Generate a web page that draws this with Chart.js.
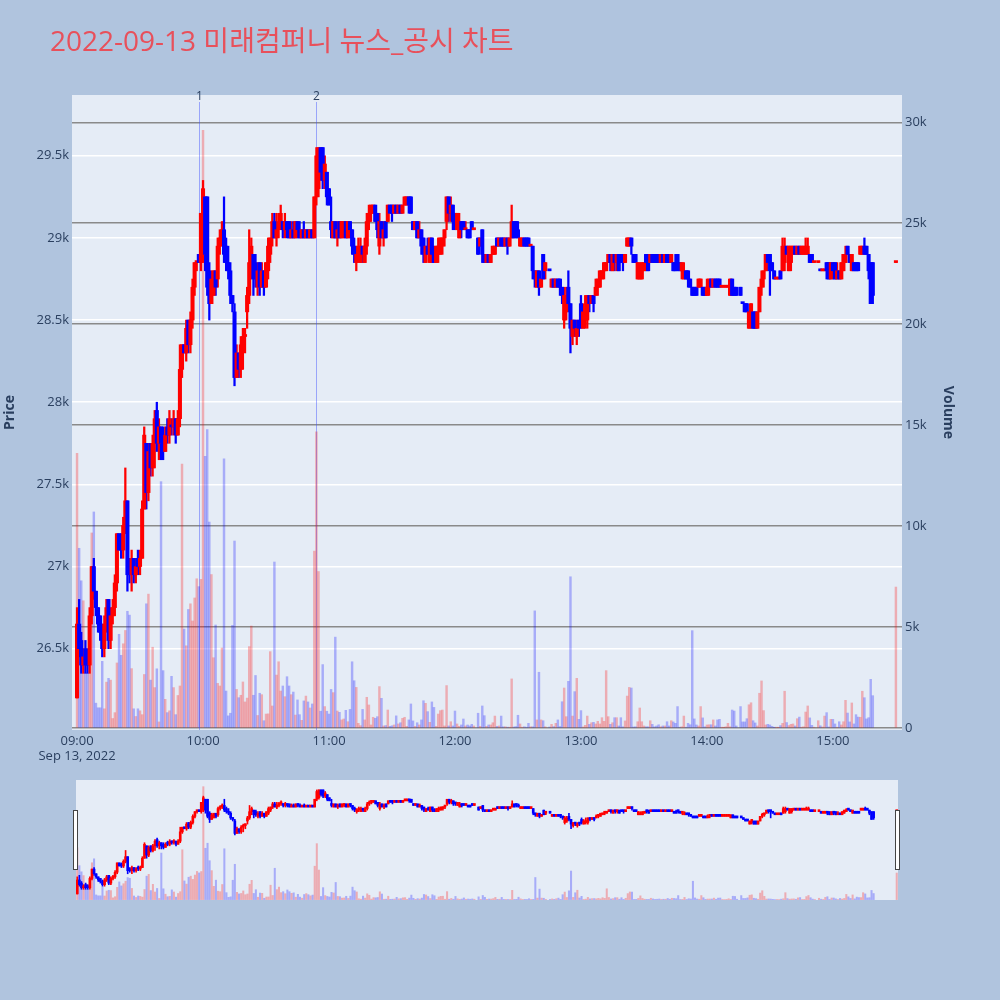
<!DOCTYPE html>
<html>
<head>
<meta charset="utf-8">
<script src="https://cdn.jsdelivr.net/npm/chart.js@4.4.1/dist/chart.umd.min.js"></script>
<style>
  html, body { margin: 0; padding: 0; background: #b0c4de; }
  #wrap { position: relative; width: 1000px; height: 1000px; overflow: hidden; }
  #title { position: absolute; left: 50px; top: 25px; font-size: 28px; line-height: 30px;
           font-family: 'Open Sans', 'Noto Sans CJK KR', sans-serif; color: #e8505b; white-space: nowrap; }
  #main { position: absolute; left: 0; top: 0; }
  #slider { position: absolute; left: 76px; top: 780px; background: #e5ecf6; }
  .handle { position: absolute; top: 810px; width: 3px; height: 58px; background: #fff; border: 1px solid #444; }
</style>
</head>
<body>
<div id="wrap">
  <canvas id="main" width="1000" height="775"></canvas>
  <canvas id="slider" width="822" height="120"></canvas>
  <div class="handle" style="left:73px"></div>
  <div class="handle" style="left:895px"></div>
  <div id="title">2022-09-13 미래컴퍼니 뉴스_공시 차트</div>
</div>
<script>
// minutes after 09:00 for each 1-minute candle
const times = [
  0,1,2,3,4,5,6,7,8,9, 10,11,12,13,14,15,16,17,18,19, 20,21,22,23,24,25,26,27,28,29,
  30,31,32,33,34,35,36,37,38,39, 40,41,42,43,44,45,46,47,48,49, 50,51,52,53,54,55,56,57,58,59,
  60,61,62,63,64,65,66,67,68,69, 70,71,72,73,74,75,76,77,78,79, 80,81,82,83,84,85,86,87,88,89,
  90,91,92,93,94,95,96,97,98,99, 100,101,102,103,104,105,106,107,108,109, 110,111,112,113,114,115,116,117,118,119,
  120,121,122,123,124,125,126,127,128,129, 130,131,132,133,134,135,136,137,138,139, 140,141,142,143,144,145,146,147,148,149,
  150,151,152,153,154,155,156,157,158,159, 160,161,162,163,164,165,166,167,168,169, 170,171,172,173,174,175,176,177,178,179,
  180,181,182,183,184,185,186,187,188,189,
  191,192,193,194,195,196,197,198,199,200, 201,202,203,204,205,206,207,208,209,210, 211,212,213,214,215,216,217,218,219,220,
  221,222,223,
  225,226,227,228,229,230,231,232,233,234, 235,236,237,238,239,240,241,242,243,244, 245,246,247,248,249,250,251,252,253,254,
  255,256,257,258,259,260,261,262,263,264, 265,266,267,268,269,270,271,272,273,274, 275,276,277,278,279,280,281,282,283,
  284,285,286,287,288,289,290,291,292,293, 294,295,296,297,298,299,300,301,302,303, 304,305,306,307,308,309,310,311,312,313,314,
  316,317,318,319,320,321,322,323,324,325, 326,327,328,329,330,331,332,333,334,335, 336,337,338,339,340,341,342,343,344,
  345,346,347,348,349,350,351,
  353,354,355,356,357,358,359,360,361,362, 363,364,365,366,367,368,369,370,371,372, 373,374,375,376,377,378,379,
  390
];
const opens = [
  26200,26650,26550,26400,26500,26450,26400,26700,27000,26850, 26750,26700,26600,26500,26650,26800,26550,26700,26750,26900,
  27200,27150,27100,27250,27400,27000,26950,27050,26950,27050, 27000,27050,27350,27750,27450,27750,27600,27750,27950,27750,
  27850,27800,27700,27850,27800,27850,27850,27900,27800,27900, 28200,28350,28300,28500,28350,28500,28700,28850,28900,28850,
  28900,29250,29250,28800,28600,28650,28800,28750,28950,29000, 29050,28950,28850,28800,28650,28550,28150,28300,28200,28350,
  28400,28550,28650,28850,28900,28850,28700,28850,28700,28800, 28700,28800,28900,29000,29100,29000,29050,29100,29100,29050,
  29100,29100,29000,29050,29000,29100,29050,29000,29050,29000, 29050,29000,29050,29000,29250,29300,29550,29550,29350,29400,
  29300,29100,29000,29100,29000,29100,29000,29050,29100,29000, 29100,29050,28950,28850,28900,28850,28950,28850,28950,29100,
  29150,29150,29200,29150,28950,29100,29000,29100,29100,29200, 29200,29150,29200,29150,29200,29150,29200,29200,29250,29250,
  29100,29050,29100,29000,29050,29000,28850,28950,28850,29000, 28900,28850,28900,28900,28950,29000,29100,29250,29150,29200,
  29150,29050,29000,29100,29100,29050,29050,29050,29100,29050,
  29000,28950,29050,28900,28850,28900,28850,28900,28900,29000, 28950,29000,29000,28950,29000,28950,29000,29100,29100,29050,
  28950,28950,29000,29000,29000,28950,28950,28800,28700,28800, 28700,28900,28800,
  28800,28700,28750,28700,28750,28750,28700,28500,28550,28700, 28600,28400,28500,28400,28500,28600,28450,28500,28500,28650,
  28600,28650,28650,28700,28700,28750,28800,28800,28850,28900, 28800,28900,28850,28900,28900,28900,28850,28950,28950,29000,
  28900,28900,28750,28750,28750,28800,28900,28900,28850,28900, 28900,28900,28900,28850,28900,28850,28900,28900,28850,
  28850,28850,28900,28850,28800,28750,28800,28800,28750,28700, 28700,28700,28700,28700,28700,28700,28650,28700,28750,28700,
  28750,28750,28750,28700,28700,28700,28700,28650,28750,28700,28700,
  28700,28600,28600,28600,28450,28500,28550,28550,28450,28550, 28700,28750,28800,28900,28900,28850,28800,28750,28750,28800,
  28800,28850,28950,28800,28850,28900,28950,28900,28950, 28900,28900,28900,28900,28900,28900,28850,
  28850,28800,28800,28800,28850,28850,28750,28850,28850,28750, 28800,28750,28800,28850,28950,28900,28800,28850,28850,28850,
  28900,28900,28950,28950,28900,28850,28850,
  28850
];
const highs = [
  26750,26800,26600,26500,26550,26500,26750,27000,27050,26850, 26750,26700,26650,26700,26800,26800,26750,26800,26950,27200,
  27200,27200,27300,27600,27400,27050,27100,27050,27050,27100, 27100,27400,27850,27750,27750,27750,27800,27950,28000,27900,
  27850,27850,27850,27900,27950,27900,27950,27900,27950,28350, 28350,28350,28500,28500,28550,28750,28850,28850,28900,29150,
  29350,29250,29250,28850,28800,28800,28800,29000,29050,29100, 29250,29000,28950,28850,28650,28600,28350,28300,28400,28450,
  28450,28700,29050,29000,28900,28900,28850,28850,28850,28800, 28850,29000,29000,29150,29150,29150,29150,29200,29100,29150,
  29100,29100,29100,29100,29100,29100,29100,29050,29100,29050, 29050,29050,29050,29250,29550,29550,29550,29550,29500,29400,
  29300,29250,29100,29100,29100,29100,29100,29100,29100,29100, 29100,29050,29000,28950,29000,29000,28950,29000,29150,29200,
  29200,29200,29200,29150,29150,29100,29100,29100,29200,29200, 29200,29200,29200,29200,29200,29200,29250,29250,29250,29250,
  29100,29100,29100,29100,29050,29000,28950,29000,29000,29000, 28950,28950,29000,29000,29000,29050,29250,29250,29250,29200,
  29150,29150,29150,29100,29100,29100,29050,29050,29100,29050,
  29000,29000,29050,28900,28900,28900,28900,28950,28950,29000, 29000,29000,29000,29000,29000,29000,29200,29100,29100,29100,
  29000,29000,29000,29000,29000,28950,28950,28800,28800,28800, 28750,28900,28850,
  28800,28750,28750,28750,28750,28750,28700,28700,28700,28800, 28600,28500,28500,28500,28500,28650,28600,28650,28650,28650,
  28650,28650,28750,28750,28800,28800,28850,28850,28900,28900, 28900,28900,28900,28900,28900,28900,28900,29000,29000,29000,
  28900,28900,28850,28850,28850,28850,28900,28900,28900,28900, 28900,28900,28900,28900,28900,28900,28900,28900,28900,
  28850,28900,28900,28850,28850,28850,28800,28800,28750,28700, 28700,28700,28750,28750,28700,28700,28750,28750,28750,28750,
  28750,28750,28750,28700,28700,28700,28700,28750,28750,28700,28700,
  28700,28600,28600,28600,28550,28600,28550,28550,28550,28700, 28800,28800,28900,28900,28900,28850,28800,28750,28750,28800,
  29000,29000,28950,28950,28950,28950,28950,28950,28950, 28950,28950,29000,29000,28900,28900,28850,
  28850,28800,28800,28800,28850,28850,28850,28850,28850,28850, 28800,28850,28900,28950,28950,28900,28900,28850,28850,28850,
  28950,28950,29000,28950,28900,28850,28850,
  28850
];
const lows = [
  26200,26450,26350,26350,26350,26350,26350,26650,26800,26700, 26600,26550,26450,26450,26600,26500,26500,26650,26700,26850,
  27100,27050,27050,27200,26850,26900,26850,26900,26900,26950, 26950,27050,27350,27350,27400,27550,27550,27600,27700,27650,
  27650,27650,27700,27750,27750,27800,27800,27750,27800,27850, 28150,28300,28250,28300,28300,28450,28650,28800,28850,28800,
  28850,28800,28650,28500,28600,28650,28650,28700,28900,28950, 28850,28800,28750,28600,28550,28100,28150,28150,28150,28200,
  28300,28450,28600,28750,28650,28700,28650,28650,28700,28650, 28700,28750,28850,28950,29000,28950,29000,29050,29000,29000,
  29000,29000,29000,29000,29000,29000,29000,29000,29000,29000, 29000,29000,29000,29000,29200,29250,29350,29300,29300,29200,
  29200,29000,29000,29000,28950,29000,29000,29000,29000,29000, 29000,28900,28850,28800,28850,28850,28850,28850,28900,29050,
  29100,29150,29100,29000,28900,29000,28950,29000,29100,29150, 29100,29150,29150,29150,29150,29150,29200,29200,29150,29150,
  29050,29050,29000,29000,28900,28850,28850,28900,28850,28850, 28850,28850,28850,28900,28900,28950,29050,29100,29100,29050,
  29050,29050,29000,29000,29050,29050,29000,29000,29050,29050,
  28900,28950,28850,28850,28850,28850,28850,28900,28900,28950, 28950,28950,28950,28950,28900,28950,29000,29000,29000,29000,
  28950,28950,28950,28950,28950,28950,28750,28700,28700,28650, 28700,28750,28750,
  28800,28700,28700,28700,28700,28650,28600,28450,28500,28550, 28300,28350,28400,28350,28400,28450,28450,28450,28450,28550,
  28600,28550,28650,28650,28700,28750,28750,28800,28850,28800, 28800,28800,28800,28800,28850,28800,28850,28950,28950,28900,
  28850,28850,28750,28750,28750,28800,28800,28800,28850,28850, 28850,28850,28850,28850,28850,28850,28850,28850,28850,
  28800,28800,28800,28800,28750,28750,28750,28700,28700,28650, 28650,28650,28700,28700,28650,28650,28650,28650,28700,28700,
  28700,28700,28700,28700,28700,28700,28700,28650,28650,28650,28650,
  28650,28600,28550,28550,28450,28450,28450,28450,28450,28550, 28650,28700,28800,28800,28650,28800,28750,28750,28750,28750,
  28800,28800,28900,28800,28800,28900,28900,28900,28900, 28900,28900,28900,28900,28850,28850,28850,
  28850,28800,28800,28800,28750,28750,28750,28750,28750,28750, 28750,28750,28800,28850,28900,28850,28800,28800,28800,28800,
  28900,28900,28900,28900,28750,28600,28600,
  28850
];
const closes = [
  26650,26500,26400,26450,26400,26400,26700,27000,26850,26750, 26650,26600,26500,26650,26750,26550,26700,26750,26900,27200,
  27100,27100,27250,27400,26950,26950,27050,26950,27000,27000, 27050,27350,27800,27450,27700,27600,27750,27900,27750,27850,
  27750,27700,27800,27800,27900,27850,27900,27800,27900,28200, 28350,28300,28450,28350,28500,28700,28850,28850,28850,29150,
  29300,28900,28700,28600,28750,28800,28700,28950,29000,29050, 28900,28850,28800,28650,28600,28150,28300,28200,28350,28400,
  28400,28650,28850,28950,28750,28750,28800,28700,28800,28700, 28850,28950,29000,29100,29000,29050,29100,29150,29050,29100,
  29050,29000,29050,29000,29100,29050,29000,29050,29000,29050, 29000,29050,29000,29250,29500,29550,29400,29350,29450,29250,
  29200,29050,29100,29000,29050,29000,29100,29100,29000,29100, 29050,28950,28900,28900,28950,28950,28900,28950,29100,29150,
  29200,29200,29100,29050,29100,29000,29050,29000,29200,29150, 29150,29200,29150,29200,29150,29200,29250,29250,29200,29150,
  29050,29100,29000,29050,28950,28900,28950,28900,29000,28900, 28850,28950,28950,29000,29000,29050,29250,29150,29200,29100,
  29100,29150,29100,29050,29050,29050,29000,29000,29050,29050,
  28900,29000,28900,28850,28900,28850,28900,28950,28950,28950, 29000,28950,28950,29000,28950,29000,29100,29000,29050,29000,
  29000,29000,28950,28950,28950,28950,28800,28750,28800,28700, 28750,28750,28850,
  28800,28750,28700,28750,28700,28700,28650,28650,28650,28600, 28450,28500,28450,28450,28450,28500,28550,28550,28650,28600,
  28650,28600,28700,28750,28800,28800,28850,28850,28900,28850, 28900,28850,28900,28800,28850,28850,28900,29000,29000,28950,
  28850,28850,28850,28800,28850,28850,28850,28800,28900,28850, 28850,28850,28850,28900,28850,28900,28850,28850,28900,
  28800,28800,28850,28800,28850,28800,28750,28750,28700,28650, 28650,28650,28750,28750,28650,28650,28700,28750,28700,28750,
  28700,28700,28700,28700,28700,28700,28700,28750,28650,28650,28650,
  28650,28600,28550,28550,28550,28600,28450,28450,28550,28700, 28750,28800,28900,28850,28850,28800,28750,28750,28750,28750,
  28950,28950,28900,28950,28950,28950,28900,28950,28900, 28950,28950,28950,28950,28850,28850,28850,
  28850,28800,28800,28800,28800,28750,28850,28800,28750,28800, 28750,28850,28900,28900,28900,28850,28900,28800,28800,28800,
  28950,28950,28900,28900,28800,28600,28650,
  28850
];
const volumes = [
  13600,8900,7290,6300,2750,2700,5000,9660,10700,1230, 1000,1000,3300,950,2270,2460,2370,470,760,3220,
  4640,3600,4170,4830,5780,5590,2940,950,570,950, 850,660,2650,6150,6630,2370,4000,2000,2930,300,
  12200,2840,1420,760,850,2560,2000,660,1610,2080, 13070,4900,4070,5870,6150,5300,6440,7390,7000,7360,
  29600,13460,14780,10200,7600,3480,5100,2210,2080,3960, 13330,1830,600,730,5080,9260,1910,1500,1620,2280,
  1290,1480,4030,5050,1620,2600,620,1720,1650,360, 690,700,3780,1090,8220,2620,3280,1830,2080,1550,
  2540,2080,1650,1780,640,1390,660,380,1340,1580, 1290,990,1190,8760,14670,7750,830,3140,1060,830,
  690,1910,1750,4500,840,775,400,445,875,310, 920,3280,2340,2010,230,115,920,400,1520,1140,
  150,530,480,560,2050,1470,100,120,890,80, 110,150,600,200,260,480,530,80,400,1190,
  350,80,260,150,400,1350,1220,810,280,1290, 1020,80,690,860,890,100,2100,100,310,100,
  840,200,80,150,445,100,150,100,180,100,
  730,80,1090,610,80,150,150,260,590,80, 100,590,60,60,40,40,2430,50,70,630,
  200,40,60,40,230,60,60,5800,400,2760, 400,360,60,
  50,180,70,230,400,70,1300,1980,560,2310, 7490,590,1800,2460,430,860,50,130,590,180,
  260,280,200,330,200,510,330,2840,560,180, 260,510,510,100,510,60,350,1580,2010,1980,
  50,60,310,990,310,100,60,60,360,180, 60,100,160,60,100,100,310,100,360,
  300,230,1060,40,60,590,40,230,160,4820, 450,150,100,1060,500,60,150,160,160,400,
  100,400,430,40,20,60,230,60,890,840,100,
  1060,300,300,460,1150,1250,360,250,100,1720, 2330,860,150,180,150,80,20,40,20,120,
  230,1820,270,120,180,200,100,460,540, 40,60,790,1090,500,130,40,
  360,110,50,590,760,50,430,430,200,40, 310,150,310,1370,740,300,1240,200,660,540,
  530,1820,1500,450,510,2410,1600,
  6980
];
// news / disclosure markers
const newsTimes = [58, 114];
const newsLabels = ['1', '2'];

// axis ticks
const timeTicks = [0, 60, 120, 180, 240, 300, 360];
const priceTicks = [26500, 27000, 27500, 28000, 28500, 29000, 29500];
const volumeTicks = [0, 5000, 10000, 15000, 20000, 25000, 30000];
const priceRange = [26005, 29870];
const volumeRange = [-100, 31350];

const RED = '#ff0000', BLUE = '#0000ff';

const isUp = closes.map((c, i) => {
  if (c !== opens[i]) return c > opens[i];
  return i === 0 || c >= closes[i - 1];
});

function hhmm(m) {
  const h = 9 + Math.floor(m / 60), mm = m % 60;
  return String(h).padStart(2, '0') + ':' + String(mm).padStart(2, '0');
}

function fixTicks(values) {
  return scale => { scale.ticks = values.map(v => ({ value: v })); };
}

function buildDatasets(bodyW, wickW, volW) {
  return [
    {
      label: 'body',
      data: times.map((t, i) => ({ x: t, y: [opens[i], closes[i]] })),
      backgroundColor: isUp.map(u => u ? RED : BLUE),
      barThickness: bodyW, minBarLength: 2, grouped: false, order: 1, yAxisID: 'y'
    },
    {
      label: 'wick',
      data: times.map((t, i) => ({ x: t, y: [lows[i], highs[i]] })),
      backgroundColor: isUp.map(u => u ? RED : BLUE),
      barThickness: wickW, minBarLength: 1, grouped: false, order: 2, yAxisID: 'y'
    },
    {
      label: 'volume',
      data: times.map((t, i) => ({ x: t, y: volumes[i] })),
      backgroundColor: isUp.map(u => u ? 'rgba(255,0,0,0.27)' : 'rgba(0,0,255,0.27)'),
      barThickness: volW, grouped: false, order: 3, yAxisID: 'y2'
    }
  ];
}

const plotBg = {
  id: 'plotBg',
  beforeDraw(chart) {
    const { ctx, chartArea: a } = chart;
    ctx.save();
    ctx.fillStyle = '#e5ecf6';
    ctx.fillRect(a.left, a.top, a.right - a.left, a.bottom - a.top);
    ctx.restore();
  }
};

const newsLines = {
  id: 'newsLines',
  beforeDatasetsDraw(chart) {
    const { ctx, chartArea: a, scales } = chart;
    ctx.save();
    newsTimes.forEach((t, i) => {
      const x = Math.round(scales.x.getPixelForValue(t)) + 0.5;
      ctx.strokeStyle = 'rgba(60,80,255,0.45)';
      ctx.lineWidth = 1;
      ctx.beginPath();
      ctx.moveTo(x, a.top + 7);
      ctx.lineTo(x, a.bottom);
      ctx.stroke();
      ctx.fillStyle = '#2a3f5f';
      ctx.font = '12px "Open Sans", sans-serif';
      ctx.textAlign = 'center';
      ctx.textBaseline = 'middle';
      ctx.fillText(newsLabels[i], x, a.top + 2);
    });
    ctx.restore();
  }
};

Chart.defaults.font.family = "'Open Sans', sans-serif";
Chart.defaults.color = '#2a3f5f';

new Chart(document.getElementById('main'), {
  type: 'bar',
  data: { datasets: buildDatasets(3.4, 1.6, 1.8) },
  options: {
    responsive: false,
    animation: false,
    layout: { padding: { top: 95, right: 42, left: 0, bottom: 0 } },
    plugins: { legend: { display: false }, tooltip: { enabled: false } },
    scales: {
      x: {
        type: 'linear', min: -2.4, max: 392.9, offset: false,
        grid: { display: false, drawTicks: false },
        border: { display: false },
        afterBuildTicks: fixTicks(timeTicks),
        ticks: {
          autoSkip: false, maxRotation: 0, padding: 3,
          font: { size: 13 },
          callback: v => v === 0 ? [hhmm(v), 'Sep 13, 2022'] : hhmm(v)
        },
        afterFit: s => { s.height = 45; }
      },
      y: {
        position: 'left', min: priceRange[0], max: priceRange[1],
        grid: { color: '#ffffff', lineWidth: 1.5, drawTicks: false },
        border: { display: false },
        afterBuildTicks: fixTicks(priceTicks),
        ticks: { autoSkip: false, padding: 3, font: { size: 13 },
                 callback: v => (v / 1000) + 'k' },
        title: { display: true, text: 'Price', font: { size: 14, weight: 'bold' }, padding: { top: 2, bottom: 0 } },
        afterFit: s => { s.width = 72; }
      },
      y2: {
        position: 'right', min: volumeRange[0], max: volumeRange[1],
        grid: { color: '#8a8a8a', lineWidth: 1.5, drawTicks: false },
        border: { display: false },
        afterBuildTicks: fixTicks(volumeTicks),
        ticks: { autoSkip: false, padding: 3, font: { size: 13 },
                 callback: v => v === 0 ? '0' : (v / 1000) + 'k' },
        title: { display: true, text: 'Volume', font: { size: 14, weight: 'bold' }, padding: { top: 2, bottom: 0 } },
        afterFit: s => { s.width = 56; }
      }
    }
  },
  plugins: [plotBg, newsLines]
});

// range slider preview
new Chart(document.getElementById('slider'), {
  type: 'bar',
  data: { datasets: buildDatasets(2, 1, 1.4) },
  options: {
    responsive: false,
    animation: false,
    layout: { padding: 0 },
    plugins: { legend: { display: false }, tooltip: { enabled: false } },
    scales: {
      x: { type: 'linear', min: -0.6, max: 390.6, offset: false, display: false },
      y: { min: priceRange[0], max: priceRange[1], display: false },
      y2: { min: volumeRange[0], max: volumeRange[1], display: false }
    }
  }
});
</script>
</body>
</html>
